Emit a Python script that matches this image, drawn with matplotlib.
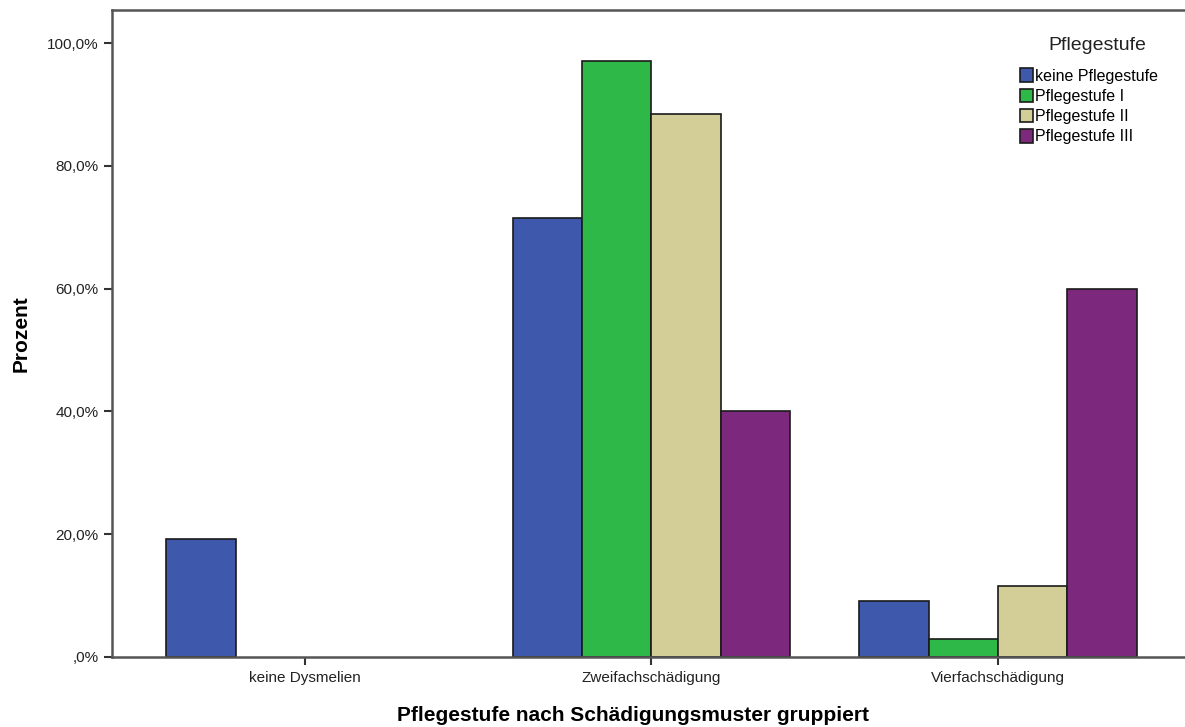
import matplotlib.pyplot as plt
import numpy as np
from matplotlib.ticker import FuncFormatter

plt.rcParams['font.family'] = ['Liberation Sans', 'DejaVu Sans']

# data (percent)
categories = ['keine Dysmelien', 'Zweifachschädigung', 'Vierfachschädigung']
series = ['keine Pflegestufe', 'Pflegestufe I', 'Pflegestufe II', 'Pflegestufe III']
keine = [19.2, 71.6, 9.2]
stufe1 = [0.0, 97.1, 2.9]
stufe2 = [0.0, 88.5, 11.5]
stufe3 = [0.0, 40.0, 60.0]
colors = ['#3E58AC', '#2EB848', '#D3CE97', '#7C287D']

fig = plt.figure(figsize=(11.85, 7.27), dpi=100)
ax = fig.add_axes([0.0945, 0.0963, 0.9105, 0.8899])

x = np.arange(len(categories))
w = 0.2
for i, (vals, name) in enumerate(zip([keine, stufe1, stufe2, stufe3], series)):
    v = np.array(vals)
    mask = v > 0
    ax.bar(x[mask] + (i - 1.5) * w, v[mask], width=w, color=colors[i],
           edgecolor='#1a1a1a', linewidth=1.2, label=name, zorder=2)

ax.set_xlim(-0.557, 2.557)
ax.set_ylim(0, 105.4)
ax.set_yticks([0, 20, 40, 60, 80, 100])
ax.yaxis.set_major_formatter(FuncFormatter(
    lambda v, p: ',0%' if v == 0 else ('%.1f%%' % v).replace('.', ',')))
ax.set_xticks(x)
ax.set_xticklabels(categories)
ax.tick_params(axis='both', labelsize=11, colors='#333333', labelcolor='#222222',
               width=1.5, length=6)
ax.tick_params(axis='x', pad=4)

for s in ['left', 'bottom', 'top']:
    ax.spines[s].set_color('#555555')
    ax.spines[s].set_linewidth(1.8)
ax.spines['right'].set_visible(False)

ax.set_ylabel('Prozent', fontsize=15, fontweight='bold', labelpad=12)
ax.set_xlabel('Pflegestufe nach Schädigungsmuster gruppiert', fontsize=15,
              fontweight='bold', labelpad=14)
ax.xaxis.set_label_coords(0.483, -0.075)

leg = fig.legend(*ax.get_legend_handles_labels(), loc='upper left',
                 bbox_to_anchor=(0.8605, 0.906), frameon=False,
                 fontsize=11.5, handlelength=0.85, handleheight=0.95,
                 handletextpad=0.12, labelspacing=0.3, borderaxespad=0,
                 borderpad=0)
fig.text(0.8845, 0.937, 'Pflegestufe', fontsize=14, color='#222222',
         ha='left', va='center')

fig.savefig('out.png', dpi=100)
